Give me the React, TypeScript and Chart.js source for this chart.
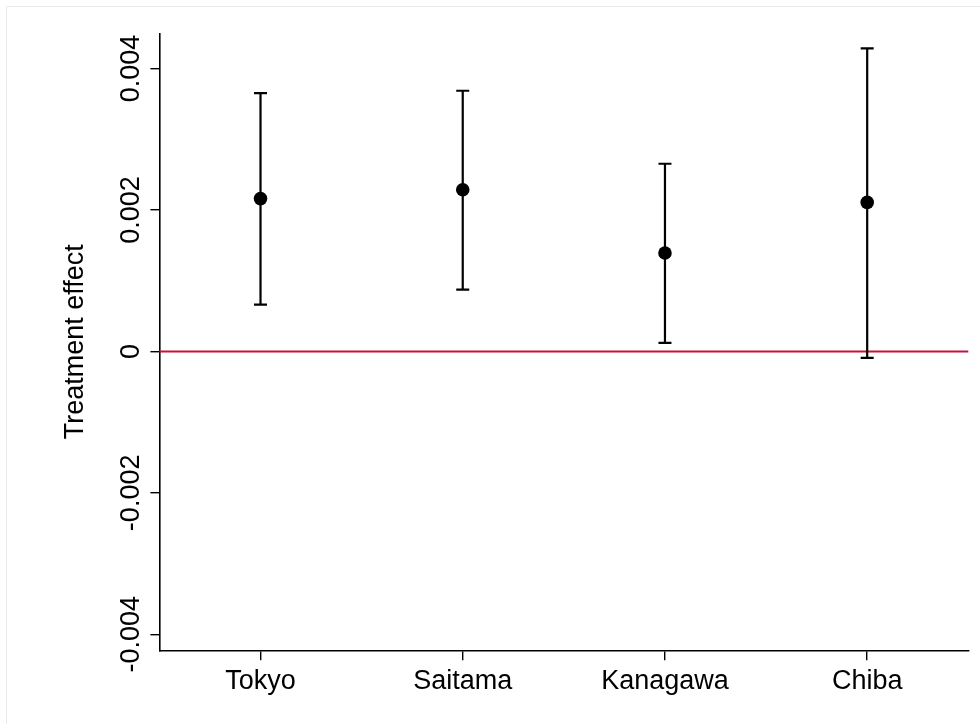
import { useEffect, useRef } from "react";
import { Chart, registerables } from "chart.js";

Chart.register(...registerables);

const FONT = '"Liberation Sans", Arial, Helvetica, sans-serif';
const FONT_SIZE = 27;

// point estimates and 95% intervals by prefecture
const regions = ["Tokyo", "Saitama", "Kanagawa", "Chiba"];
const estimates = [0.00216, 0.002286, 0.001391, 0.002106];
const lowerCI = [0.00066, 0.000872, 0.000119, -0.000093];
const upperCI = [0.003652, 0.003685, 0.002653, 0.004283];

const yTicks = [-0.004, -0.002, 0, 0.002, 0.004];
const yTickLabels = ["-0.004", "-0.002", "0", "0.002", "0.004"];
const yMin = -0.004226;
const yMax = 0.004497;
const yTitle = "Treatment effect";

const errorBarPlugin = {
  id: "errorBars",
  beforeDatasetsDraw(chart: any) {
    const { ctx, chartArea, scales } = chart;
    const x = scales.x;
    const y = scales.y;
    ctx.save();
    // zero line
    const y0 = y.getPixelForValue(0);
    ctx.strokeStyle = "#c8103a";
    ctx.lineWidth = 2;
    ctx.beginPath();
    ctx.moveTo(chartArea.left, y0);
    ctx.lineTo(chartArea.right, y0);
    ctx.stroke();

    // whiskers
    ctx.strokeStyle = "#000";
    ctx.lineWidth = 2.2;
    const cap = 6.5;
    regions.forEach((_, i) => {
      const px = x.getPixelForValue(i);
      const lo = y.getPixelForValue(lowerCI[i]);
      const hi = y.getPixelForValue(upperCI[i]);
      ctx.beginPath();
      ctx.moveTo(px, lo);
      ctx.lineTo(px, hi);
      ctx.moveTo(px - cap, lo);
      ctx.lineTo(px + cap, lo);
      ctx.moveTo(px - cap, hi);
      ctx.lineTo(px + cap, hi);
      ctx.stroke();
    });
    ctx.restore();
  },
  afterDraw(chart: any) {
    const { ctx, chartArea, scales } = chart;
    const y = scales.y;
    ctx.save();
    ctx.fillStyle = "#000";
    ctx.font = `${FONT_SIZE}px ${FONT}`;
    ctx.textAlign = "center";
    ctx.textBaseline = "alphabetic";
    y.ticks.forEach((t: any, i: number) => {
      const py = y.getPixelForValue(t.value);
      ctx.save();
      ctx.translate(139, py);
      ctx.rotate(-Math.PI / 2);
      ctx.fillText(yTickLabels[i], 0, 0);
      ctx.restore();
    });
    // axis title
    ctx.save();
    ctx.translate(83, (chartArea.top + chartArea.bottom) / 2);
    ctx.rotate(-Math.PI / 2);
    ctx.fillText(yTitle, 0, 0);
    ctx.restore();

    // faint outer frame
    ctx.strokeStyle = "#e6ecee";
    ctx.lineWidth = 1;
    ctx.beginPath();
    ctx.moveTo(6.5, 724);
    ctx.lineTo(6.5, 6.5);
    ctx.lineTo(980, 6.5);
    ctx.stroke();
    ctx.restore();
  },
};

export default function App() {
  const canvasRef = useRef<HTMLCanvasElement>(null);
  const chartRef = useRef<Chart | null>(null);

  useEffect(() => {
    if (!canvasRef.current) return;
    if (chartRef.current) chartRef.current.destroy();

    chartRef.current = new Chart(canvasRef.current, {
      type: "line",
      data: {
        labels: regions,
        datasets: [
          {
            data: estimates,
            showLine: false,
            pointRadius: 6.8,
            pointBorderWidth: 0,
            pointBackgroundColor: "#000",
            pointBorderColor: "#000",
          },
        ],
      },
      options: {
        animation: false,
        responsive: true,
        maintainAspectRatio: false,
        layout: { padding: { left: 0, top: 33.3, right: 11.7, bottom: 0 } },
        plugins: {
          legend: { display: false },
          tooltip: { enabled: false },
        },
        scales: {
          x: {
            type: "category",
            offset: true,
            afterFit: (s: any) => {
              s.height = 73.7;
            },
            border: { color: "#000", width: 1.6 },
            grid: {
              offset: false,
              drawOnChartArea: false,
              tickLength: 10,
              color: "#000",
              lineWidth: 1.4,
            },
            ticks: {
              color: "#000",
              padding: 5,
              maxRotation: 0,
              font: { family: FONT, size: FONT_SIZE },
            },
          },
          y: {
            type: "linear",
            min: yMin,
            max: yMax,
            afterBuildTicks: (s: any) => {
              s.ticks = yTicks.map((v) => ({ value: v }));
            },
            afterFit: (s: any) => {
              s.width = 159.4;
            },
            border: { color: "#000", width: 1.6 },
            grid: {
              drawOnChartArea: false,
              tickLength: 9,
              color: "#000",
              lineWidth: 1.4,
            },
            ticks: { display: false },
          },
        },
      },
      plugins: [errorBarPlugin],
    });

    return () => {
      if (chartRef.current) {
        chartRef.current.destroy();
        chartRef.current = null;
      }
    };
  }, []);

  return (
    <div
      style={{
        position: "fixed",
        left: 0,
        top: 0,
        width: 980,
        height: 724,
        background: "#fff",
      }}
    >
      <canvas ref={canvasRef} />
    </div>
  );
}
